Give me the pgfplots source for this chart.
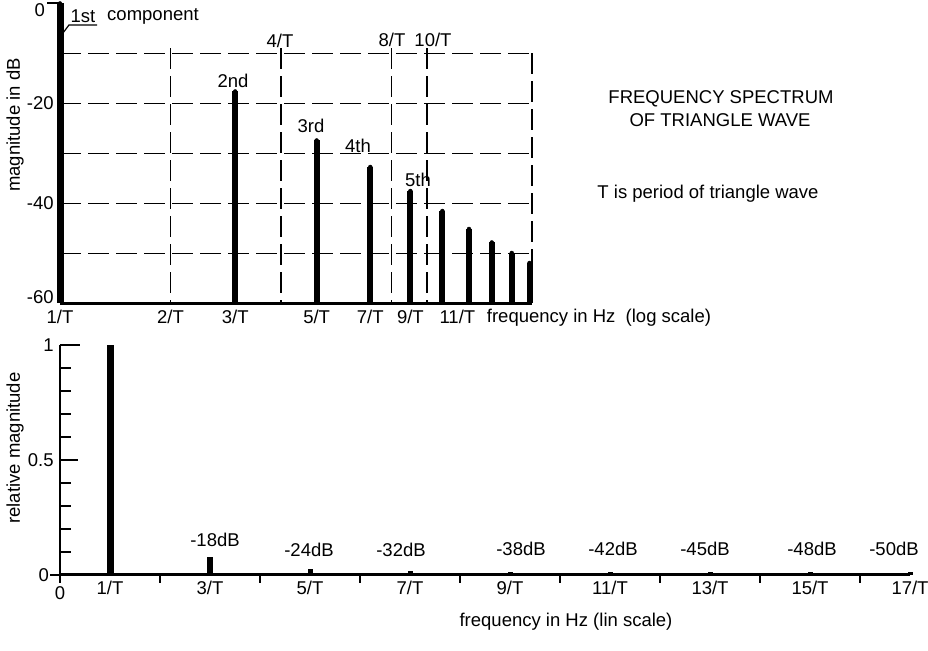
\documentclass[border=0pt]{standalone}
\usepackage{pgfplots}
\pgfplotsset{compat=1.18}
\usepackage{pgfplotstable}
\usepackage{fontspec}
\setmainfont{Liberation Sans}

% first component and higher harmonics, magnitude in dB (log-frequency chart)
\pgfplotstableread{
f db
1 0
}\firstdata
\pgfplotstableread{
f db
3 -17.6
5 -27.4
7 -32.7
9 -37.5
11 -41.5
13 -45.1
15 -47.8
17 -49.9
19 -51.9
}\harmdata

\tikzset{dline/.style={line width=1.7pt, dash pattern=on 21pt off 7pt}}

\begin{document}
\fontsize{18.5pt}{21pt}\selectfont
\begin{tikzpicture}
\useasboundingbox (0pt,0pt) rectangle (928pt,650pt);

% ---------------- top: dB vs log frequency ----------------
\begin{axis}[
  at={(60pt,346.5pt)}, anchor=south west, scale only axis,
  width=472pt, height=300pt,
  xmode=log, xmin=1, xmax=19.3, ymin=-60, ymax=0,
  axis line style={draw=none},
  xtick={1,2,3,5,7,9}, xticklabels={1/T,2/T,3/T,5/T,7/T,9/T},
  ytick={-20,-40}, yticklabels={-20,-40},
  xminorticks=false, yminorticks=false,
  major tick length=0pt, minor tick length=0pt,
  xtick pos=left, ytick pos=left,
  clip=false,
]
\pgfplotsinvokeforeach{-10,-20,-30,-40,-50}{\draw[dline] (axis cs:1,#1) -- (axis cs:19.3,#1);}
\pgfplotsinvokeforeach{2,4,8,10}{\draw[dline] (axis cs:#1,-9) -- (axis cs:#1,-60);}
\draw[dline] (axis cs:19.3,-10) -- (axis cs:19.3,-60);
\draw[line width=3pt] (axis cs:1,-60) -- (axis cs:19.3,-60);
\draw[line width=2pt] (axis cs:1,0) -- ++(-13pt,0pt);
\node[anchor=east, inner sep=0pt] at ([xshift=-15pt,yshift=-7pt]axis cs:1,0) {0};
\node[anchor=east] at ([yshift=6pt]axis cs:1,-60) {-60};
\node[anchor=north] at ([xshift=15pt]axis cs:11,-60) {11/T};
\addplot[black, only marks, mark=none,
  error bars/.cd, y dir=minus, y explicit, error mark=none,
  error bar style={line width=7pt}]
  table[x=f, y=db, y error expr=\thisrow{db}+60] {\firstdata};
\addplot[black, only marks, mark=none,
  error bars/.cd, y dir=minus, y explicit, error mark=none,
  error bar style={line width=6pt}]
  table[x=f, y=db, y error expr=\thisrow{db}+60] {\harmdata};
\end{axis}

% ---------------- bottom: relative magnitude vs linear frequency ----------------
\begin{axis}[
  at={(60pt,75pt)}, anchor=south west, scale only axis,
  width=850pt, height=230pt,
  xmin=0, xmax=17, ymin=0, ymax=1,
  axis line style={draw=none},
  xtick={1,3,...,17}, xticklabels={1/T,3/T,5/T,7/T,9/T,11/T,13/T,15/T,17/T},
  ytick={0.5,1}, yticklabels={0.5,1},
  major tick length=0pt, minor tick length=0pt,
  xtick pos=left, ytick pos=left,
  clip=false,
]
\draw[line width=2.5pt] (axis cs:0,1) -- (axis cs:0,-0.035);
\draw[line width=3pt] (axis cs:0,0) -- (axis cs:17,0);
\pgfplotsinvokeforeach{0.1,0.2,0.3,0.4,0.6,0.7,0.8,0.9}{\draw[line width=2pt] (axis cs:0,#1) -- ++(11pt,0pt);}
\draw[line width=2pt] (axis cs:0,0.5) -- ++(18pt,0pt);
\draw[line width=2pt] (axis cs:0,1) -- ++(20pt,0pt);
\draw[line width=2pt] (axis cs:0,0) -- ++(-10pt,0pt);
\pgfplotsinvokeforeach{2,4,6,8,10,12,14,16}{\draw[line width=2pt] (axis cs:#1,0) -- ++(0pt,-8pt);}
\node[anchor=east, inner sep=0pt] at ([xshift=-11pt]axis cs:0,0) {0};
\node at ([yshift=-18pt]axis cs:0,0) {0};
\addplot[black, ycomb, line width=7pt] coordinates {(1,1)};
\addplot[black, ycomb, line width=6pt] coordinates {(3,0.08)};
\addplot[black, ycomb, line width=5pt] coordinates {(5,0.025) (7,0.018) (9,0.014) (11,0.012) (13,0.012) (15,0.011) (17,0.011)};
\end{axis}

% ---------------- annotations ----------------
\node[rotate=90] at (15pt,525pt) {magnitude in dB};
\node[rotate=90] at (15pt,202pt) {relative magnitude};
\draw[line width=1.2pt] (63pt,617pt) -- (69pt,625pt) -- (97pt,625pt);
\node at (83pt,634pt) {1st};
\node at (153pt,634pt) {component};
\node at (280pt,609pt) {4/T};
\node at (392pt,610pt) {8/T};
\node at (433pt,610pt) {10/T};
\node at (233pt,569pt) {2nd};
\node at (311pt,524pt) {3rd};
\node at (358pt,504pt) {4th};
\node at (418pt,470pt) {5th};
\node at (599pt,332pt) {frequency in Hz\ \ (log scale)};
\node at (721pt,551pt) {FREQUENCY SPECTRUM};
\node at (720pt,530pt) {OF TRIANGLE WAVE};
\node at (708pt,456pt) {T is period of triangle wave};
\node at (215pt,110pt) {-18dB};
\node at (309pt,100pt) {-24dB};
\node at (401pt,100pt) {-32dB};
\node at (521pt,101pt) {-38dB};
\node at (613pt,101pt) {-42dB};
\node at (705pt,101pt) {-45dB};
\node at (812pt,101pt) {-48dB};
\node at (894pt,101pt) {-50dB};
\node at (566pt,28pt) {frequency in Hz (lin scale)};
\end{tikzpicture}
\end{document}
